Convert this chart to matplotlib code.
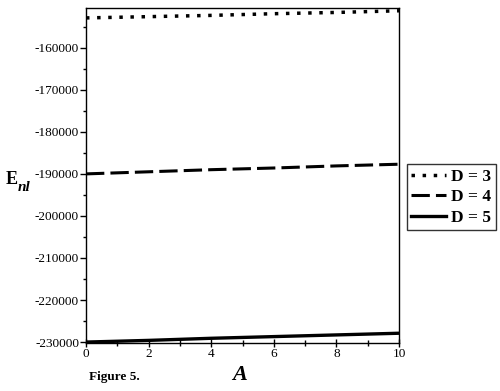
import numpy as np
import matplotlib.pyplot as plt
from matplotlib.ticker import MultipleLocator

plt.rcParams['font.family'] = ['Liberation Serif', 'DejaVu Serif']
plt.rcParams['axes.unicode_minus'] = False

# A values and energies
A = [0, 2, 4, 6, 8, 10]
E_D3 = [-152900, -152600, -152300, -151900, -151600, -151200]
E_D4 = [-190000, -189500, -189000, -188600, -188100, -187700]
E_D5 = [-230000, -229600, -229100, -228700, -228300, -227900]

fig = plt.figure(figsize=(5, 3.91), dpi=100)
ax = fig.add_axes([0.172, 0.123, 0.626, 0.857])

ax.plot(A, E_D3, color='black', linestyle=(0, (1, 2.2)), linewidth=2.5, label='D = 3')
ax.plot(A, E_D4, color='black', linestyle=(0, (6, 2)), linewidth=2.2, label='D = 4')
ax.plot(A, E_D5, color='black', linestyle='-', linewidth=2.4, label='D = 5')

ax.set_xlim(0, 10)
ax.set_ylim(-230200, -150500)
ax.xaxis.set_major_locator(MultipleLocator(2))
ax.xaxis.set_minor_locator(MultipleLocator(1))
ax.yaxis.set_major_locator(MultipleLocator(10000))
ax.yaxis.set_minor_locator(MultipleLocator(5000))
ax.tick_params(labelsize=9.5, length=4, width=1, direction='out', pad=1)
ax.tick_params(which='minor', length=2.5, width=1)
ax.tick_params(axis='x', direction='inout', length=6, pad=1)
ax.tick_params(axis='x', which='minor', direction='inout', length=4)
for s in ax.spines.values():
    s.set_linewidth(1)

ax.legend(loc='upper left', bbox_to_anchor=(1.025, 0.533), frameon=True,
          fancybox=False, edgecolor='black', handlelength=2.0, handletextpad=0.3,
          borderpad=0.25, labelspacing=0.25, borderaxespad=0.0,
          prop={'weight': 'bold', 'size': 12.5})

# y label: bold E with bold italic subscript
fig.text(0.024, 0.54, 'E', fontsize=13, fontweight='bold', ha='center', va='center')
fig.text(0.035, 0.52, 'nl', fontsize=11, fontweight='bold', fontstyle='italic',
         ha='left', va='center')
fig.text(0.48, 0.04, 'A', fontsize=16, fontweight='bold', fontstyle='italic', ha='center', va='center')
fig.text(0.178, 0.035, 'Figure 5.', fontsize=9.5, fontweight='bold', ha='left', va='center')

plt.savefig('out.png', dpi=100)
